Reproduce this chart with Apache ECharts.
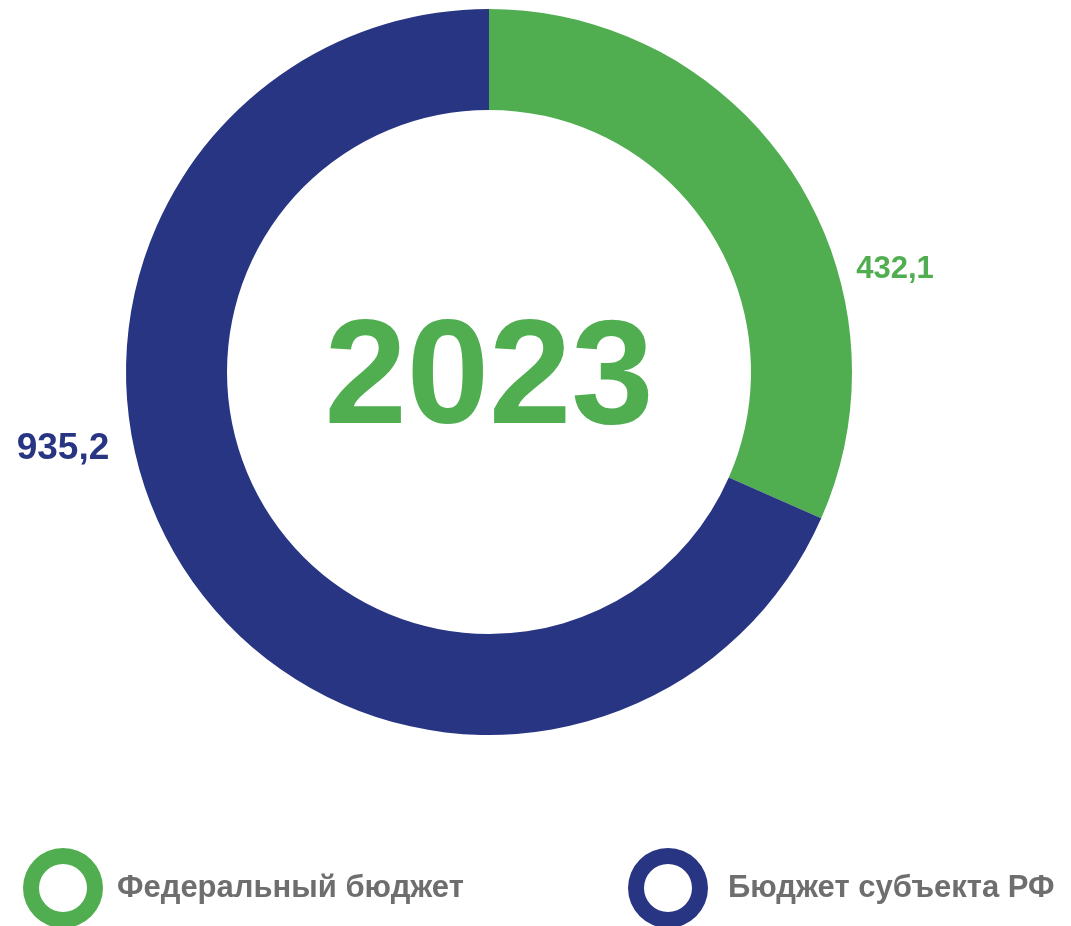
<!DOCTYPE html>
<html><head><meta charset="utf-8">
<script src="https://cdn.jsdelivr.net/npm/echarts@6/dist/echarts.min.js"></script>
<style>html,body{margin:0;padding:0;background:#fff}#c{width:1071px;height:926px}</style>
</head><body><div id="c"></div>
<script>
const categories = ['Федеральный бюджет', 'Бюджет субъекта РФ'];
const values = [432.1, 935.2];
const valueLabels = ['432,1', '935,2'];
const centerTitle = '2023';
const colors = ['#50AE51', '#283583'];

const chart = echarts.init(document.getElementById('c'), null, {renderer: 'canvas'});
const labelPos = [{x: 895, y: 269, size: 31}, {x: 63, y: 449, size: 37}];
const FONT = '"Liberation Sans", Arial, sans-serif';
const RING = 'path://M0,40 A40,40 0 1,0 80,40 A40,40 0 1,0 0,40 Z M16,40 A24,24 0 1,1 64,40 A24,24 0 1,1 16,40 Z';
const legendLeft = [18, 623];
const legendTextPad = [9, 15];

chart.setOption({
  animation: false,
  backgroundColor: '#ffffff',
  color: colors,
  legend: [0, 1].map(i => ({
    data: [{name: categories[i], icon: RING, itemStyle: {color: colors[i]}}],
    left: legendLeft[i],
    top: 843,
    itemWidth: 80,
    itemHeight: 80,
    selectedMode: false,
    textStyle: {fontFamily: FONT, fontWeight: 'bold', fontSize: 31, color: '#6E6E6E', padding: [8, 0, 0, legendTextPad[i]]}
  })),
  graphic: [{
    type: 'text',
    x: 489, y: 382,
    style: {text: centerTitle, fill: colors[0], font: 'bold 148px ' + FONT, align: 'center', verticalAlign: 'middle'}
  }],
  series: [{
    type: 'pie',
    center: [489, 372],
    radius: [262, 363],
    startAngle: 90,
    clockwise: true,
    silent: true,
    emphasis: {disabled: true},
    label: {
      show: true,
      position: 'outside',
      formatter: p => valueLabels[p.dataIndex],
      fontFamily: FONT,
      fontWeight: 'bold'
    },
    labelLine: {show: false},
    labelLayout: p => ({x: labelPos[p.dataIndex].x, y: labelPos[p.dataIndex].y, align: 'center', verticalAlign: 'middle'}),
    data: categories.map((n, i) => ({
      name: n, value: values[i],
      itemStyle: {color: colors[i]},
      label: {color: colors[i], fontSize: labelPos[i].size}
    }))
  }]
});
</script></body></html>
